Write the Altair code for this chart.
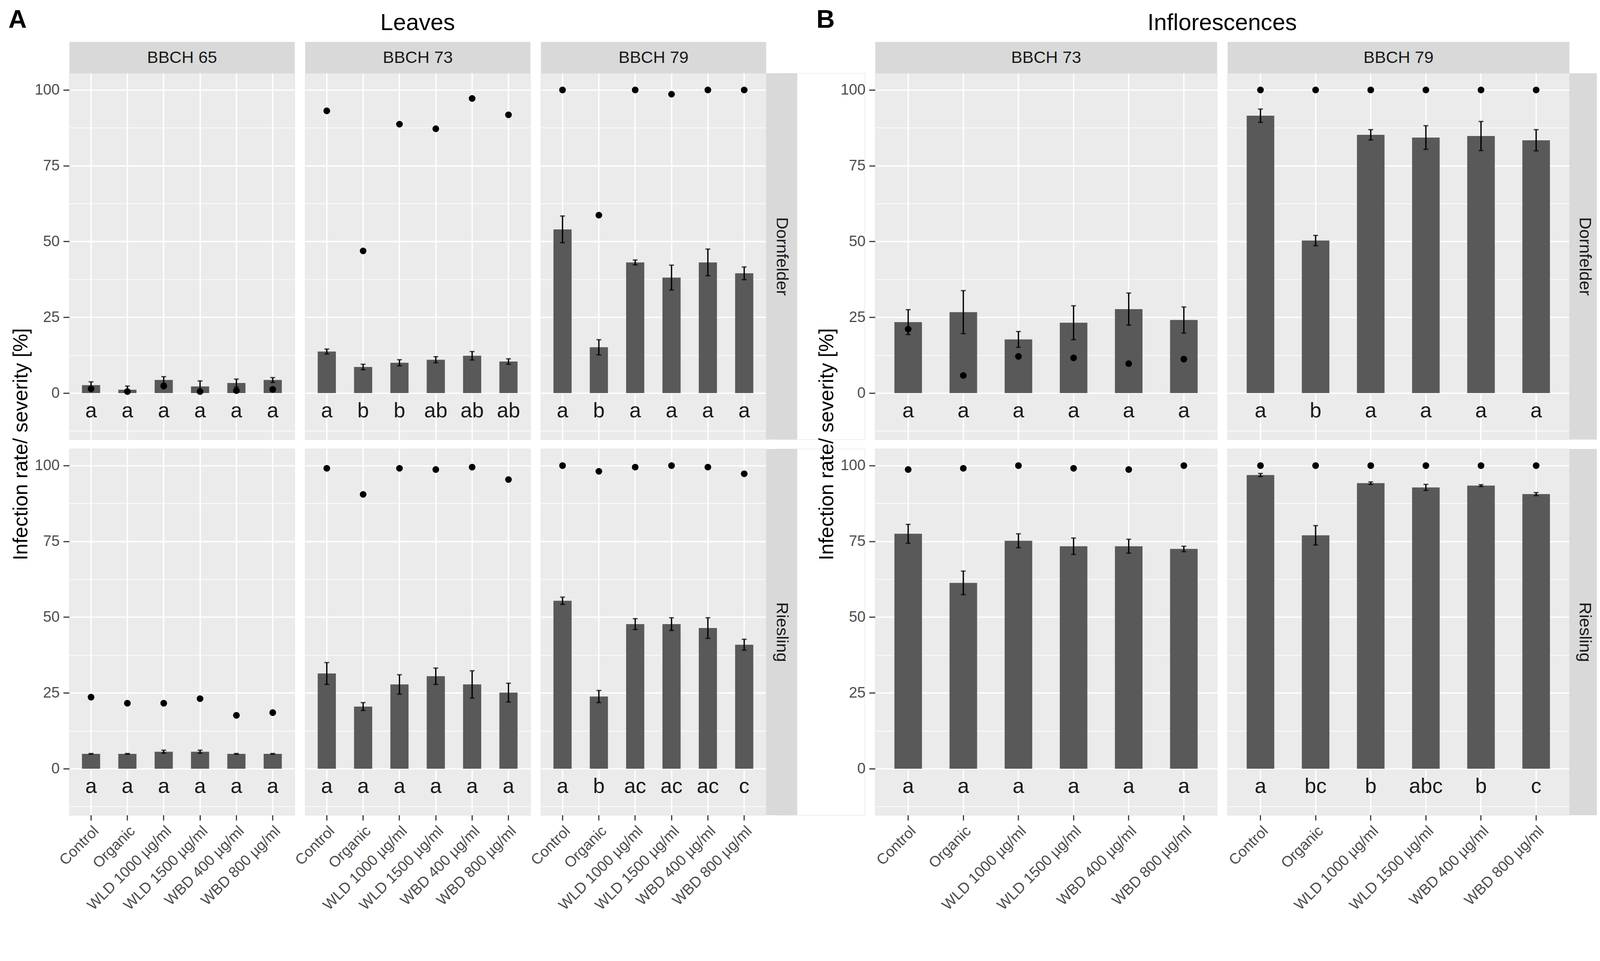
import altair as alt
import pandas as pd

FONT = "Liberation Sans"

treatments = ["Control", "Organic", "WLD 1000 µg/ml", "WLD 1500 µg/ml",
              "WBD 400 µg/ml", "WBD 800 µg/ml"]

# ---------------- A: Leaves ----------------
# Dornfelder
leaf_dorn_65_sev = [2.6, 1.1, 4.3, 2.2, 3.3, 4.3]
leaf_dorn_65_se = [1.1, 1.2, 1.1, 1.8, 1.3, 0.8]
leaf_dorn_65_inf = [1.4, 0.5, 2.3, 0.5, 0.8, 1.2]
leaf_dorn_65_let = ["a", "a", "a", "a", "a", "a"]

leaf_dorn_73_sev = [13.7, 8.6, 10.0, 11.0, 12.3, 10.4]
leaf_dorn_73_se = [0.8, 0.9, 1.0, 1.0, 1.4, 0.9]
leaf_dorn_73_inf = [93.1, 46.9, 88.7, 87.2, 97.2, 91.8]
leaf_dorn_73_let = ["a", "b", "b", "ab", "ab", "ab"]

leaf_dorn_79_sev = [54.0, 15.1, 43.1, 38.1, 43.1, 39.5]
leaf_dorn_79_se = [4.4, 2.5, 0.8, 4.1, 4.4, 2.1]
leaf_dorn_79_inf = [100.0, 58.7, 100.0, 98.6, 100.0, 100.0]
leaf_dorn_79_let = ["a", "b", "a", "a", "a", "a"]

# Riesling
leaf_ries_65_sev = [4.9, 4.9, 5.6, 5.6, 4.9, 4.9]
leaf_ries_65_se = [0.1, 0.1, 0.5, 0.5, 0.1, 0.1]
leaf_ries_65_inf = [23.6, 21.6, 21.6, 23.1, 17.6, 18.5]
leaf_ries_65_let = ["a", "a", "a", "a", "a", "a"]

leaf_ries_73_sev = [31.4, 20.5, 27.8, 30.5, 27.8, 25.1]
leaf_ries_73_se = [3.6, 1.3, 3.2, 2.7, 4.5, 3.1]
leaf_ries_73_inf = [99.1, 90.5, 99.1, 98.7, 99.5, 95.4]
leaf_ries_73_let = ["a", "a", "a", "a", "a", "a"]

leaf_ries_79_sev = [55.4, 23.8, 47.7, 47.7, 46.4, 40.9]
leaf_ries_79_se = [1.2, 2.0, 1.8, 2.1, 3.4, 1.8]
leaf_ries_79_inf = [100.0, 98.1, 99.5, 100.0, 99.5, 97.3]
leaf_ries_79_let = ["a", "b", "ac", "ac", "ac", "c"]

# ---------------- B: Inflorescences ----------------
infl_dorn_73_sev = [23.4, 26.7, 17.7, 23.2, 27.7, 24.1]
infl_dorn_73_se = [4.1, 7.1, 2.6, 5.6, 5.3, 4.3]
infl_dorn_73_inf = [21.1, 5.8, 12.1, 11.6, 9.7, 11.2]
infl_dorn_73_let = ["a", "a", "a", "a", "a", "a"]

infl_dorn_79_sev = [91.5, 50.3, 85.2, 84.3, 84.8, 83.4]
infl_dorn_79_se = [2.2, 1.7, 1.7, 3.9, 4.8, 3.5]
infl_dorn_79_inf = [100.0, 100.0, 100.0, 100.0, 100.0, 100.0]
infl_dorn_79_let = ["a", "b", "a", "a", "a", "a"]

infl_ries_73_sev = [77.5, 61.3, 75.2, 73.4, 73.4, 72.5]
infl_ries_73_se = [3.1, 3.9, 2.3, 2.7, 2.3, 0.9]
infl_ries_73_inf = [98.7, 99.1, 100.0, 99.1, 98.7, 100.0]
infl_ries_73_let = ["a", "a", "a", "a", "a", "a"]

infl_ries_79_sev = [96.9, 77.0, 94.2, 92.8, 93.4, 90.6]
infl_ries_79_se = [0.5, 3.2, 0.4, 1.0, 0.3, 0.5]
infl_ries_79_inf = [100.0, 100.0, 100.0, 100.0, 100.0, 100.0]
infl_ries_79_let = ["a", "bc", "b", "abc", "b", "c"]

Y_TITLE = "Infection rate/ severity [%]"

# ---------------- layout constants ----------------
H = 980
W_LEAF = 603
W_INFL = 915
STRIP_H = 84
STRIP_W = 83
ROW_GAP = 25
COL_GAP = 28
SPACER_W = 236

Y_DOMAIN = [-15.3, 105.55]
Y_VALUES = [-12.5, 0, 12.5, 25, 37.5, 50, 62.5, 75, 87.5, 100]
MINOR = "datum.value % 25 != 0"
LETTER_Y = -8

BAR_COLOR = "#595959"
PANEL_BG = "#EBEBEB"
STRIP_BG = "#D9D9D9"


def frame(sev, se, inf, let):
    return pd.DataFrame({
        "trt": treatments,
        "sev": sev,
        "lo": [m - e for m, e in zip(sev, se)],
        "hi": [m + e for m, e in zip(sev, se)],
        "inf": inf,
        "let": let,
    })


def panel(df, width, first_col, bottom, top_label=None, right_label=None,
          ytitle=None, title=None):
    xscale = alt.Scale(domain=treatments, paddingInner=0, paddingOuter=0.1)
    yscale = alt.Scale(domain=Y_DOMAIN, nice=False, zero=False)

    xk = dict(title=None, domain=False, grid=True, gridColor="white",
              gridWidth=3.5, bandPosition=0.5, labels=bottom, ticks=bottom,
              labelOverlap=False)
    if bottom:
        xk.update(labelAngle=-45, labelAlign="right", labelBaseline="top",
                  labelFontSize=40, labelFont=FONT, labelColor="#4D4D4D",
                  labelPadding=8, labelLimit=0, tickColor="#333333",
                  tickSize=14, tickWidth=3)
    xaxis = alt.Axis(**xk)

    yk = dict(values=Y_VALUES, domain=False, grid=True, gridColor="white",
              gridWidth={"condition": {"test": MINOR, "value": 1.7}, "value": 3.5},
              labels=first_col, ticks=first_col, labelOverlap=False)
    if first_col:
        yk.update(labelExpr="datum.value % 25 == 0 ? datum.label : ''",
                  labelFontSize=40, labelFont=FONT, labelColor="#4D4D4D",
                  labelPadding=10, tickColor="#333333", tickSize=16, tickWidth=3,
                  tickOpacity={"condition": {"test": MINOR, "value": 0}, "value": 1})
    if ytitle:
        yk.update(title=ytitle, titleX=-129, titleY=(2 * H + ROW_GAP) / 2,
                  titleAngle=270, titleAlign="center", titleBaseline="middle",
                  titleFontSize=54, titleFont=FONT, titleFontWeight="normal",
                  titleColor="black")
    else:
        yk["title"] = None
    yaxis = alt.Axis(**yk)

    X = alt.X("trt:N", scale=xscale, axis=xaxis)
    Xn = alt.X("trt:N", scale=xscale, axis=None)
    base = alt.Chart(df)

    bars = base.mark_bar(color=BAR_COLOR, width={"band": 0.5}).encode(
        x=X, y=alt.Y("sev:Q", scale=yscale, axis=yaxis))
    rule = base.mark_rule(color="black", strokeWidth=3.5).encode(
        x=Xn, y=alt.Y("lo:Q", scale=yscale, axis=None), y2="hi:Q")
    cap_lo = base.mark_tick(color="black", thickness=3.5, size=13).encode(
        x=Xn, y=alt.Y("lo:Q", scale=yscale, axis=None))
    cap_hi = base.mark_tick(color="black", thickness=3.5, size=13).encode(
        x=Xn, y=alt.Y("hi:Q", scale=yscale, axis=None))
    pts = base.mark_circle(color="black", size=320, opacity=1).encode(
        x=Xn, y=alt.Y("inf:Q", scale=yscale, axis=None))
    txt = base.mark_text(font=FONT, fontSize=56, color="#1A1A1A",
                         baseline="alphabetic").encode(
        x=Xn, y=alt.YDatum(LETTER_Y, axis=None), text="let:N")

    layers = [bars, rule, cap_lo, cap_hi, pts, txt]

    if top_label or right_label:
        if top_label:
            sx = alt.X("trt:N", scale=xscale, axis=alt.Axis(
                orient="top", title=top_label, labels=False, ticks=False,
                grid=False, domain=True, domainColor=STRIP_BG,
                domainWidth=STRIP_H, offset=STRIP_H / 2, titleX=width / 2,
                titleY=0, titleAlign="center", titleBaseline="middle",
                titleFontSize=45, titleFont=FONT, titleFontWeight="normal",
                titleColor="#1A1A1A", titlePadding=0))
        else:
            sx = Xn
        if right_label:
            sy = alt.Y("sev:Q", scale=yscale, axis=alt.Axis(
                orient="right", title=right_label, labels=False, ticks=False,
                grid=False, domain=True, domainColor=STRIP_BG,
                domainWidth=STRIP_W, offset=STRIP_W / 2, titleX=0,
                titleY=H / 2, titleAngle=90, titleAlign="center",
                titleBaseline="middle", titleFontSize=45, titleFont=FONT,
                titleFontWeight="normal", titleColor="#1A1A1A", titlePadding=0))
        else:
            sy = alt.Y("sev:Q", scale=yscale, axis=None)
        strip = base.mark_point(opacity=0).encode(x=sx, y=sy)
        layers.append(strip)

    props = dict(width=width, height=H, view=alt.ViewBackground(fill=PANEL_BG))
    if title is not None:
        props["title"] = title
    return alt.layer(*layers).resolve_axis(x="independent", y="independent").properties(**props)


def spacer():
    return alt.Chart(pd.DataFrame({"v": [0]})).mark_point(opacity=0).encode(
        x=alt.value(0), y=alt.value(0)).properties(width=SPACER_W, height=H)


TITLE_OFFSET = -11


def letter_title(t, dx):
    return alt.TitleParams(t, fontSize=68, font=FONT, fontWeight="bold",
                           color="black", anchor="start", frame="group",
                           dx=dx, baseline="alphabetic", offset=TITLE_OFFSET)


def main_title(t, dx=0):
    return alt.TitleParams(t, fontSize=62, font=FONT, fontWeight="normal",
                           color="black", anchor="middle", frame="group",
                           dx=dx, baseline="alphabetic", offset=TITLE_OFFSET)


cells = [
    panel(frame(leaf_dorn_65_sev, leaf_dorn_65_se, leaf_dorn_65_inf, leaf_dorn_65_let),
          W_LEAF, True, False, top_label="BBCH 65", ytitle=Y_TITLE,
          title=letter_title("A", -163)),
    panel(frame(leaf_dorn_73_sev, leaf_dorn_73_se, leaf_dorn_73_inf, leaf_dorn_73_let),
          W_LEAF, False, False, top_label="BBCH 73", title=main_title("Leaves")),
    panel(frame(leaf_dorn_79_sev, leaf_dorn_79_se, leaf_dorn_79_inf, leaf_dorn_79_let),
          W_LEAF, False, False, top_label="BBCH 79", right_label="Dornfelder"),
    spacer(),
    panel(frame(infl_dorn_73_sev, infl_dorn_73_se, infl_dorn_73_inf, infl_dorn_73_let),
          W_INFL, True, False, top_label="BBCH 73", ytitle=Y_TITLE,
          title=letter_title("B", -157)),
    panel(frame(infl_dorn_79_sev, infl_dorn_79_se, infl_dorn_79_inf, infl_dorn_79_let),
          W_INFL, False, False, top_label="BBCH 79", right_label="Dornfelder",
          title=main_title("Inflorescences", -(W_INFL + COL_GAP) / 2)),
    panel(frame(leaf_ries_65_sev, leaf_ries_65_se, leaf_ries_65_inf, leaf_ries_65_let),
          W_LEAF, True, True),
    panel(frame(leaf_ries_73_sev, leaf_ries_73_se, leaf_ries_73_inf, leaf_ries_73_let),
          W_LEAF, False, True),
    panel(frame(leaf_ries_79_sev, leaf_ries_79_se, leaf_ries_79_inf, leaf_ries_79_let),
          W_LEAF, False, True, right_label="Riesling"),
    spacer(),
    panel(frame(infl_ries_73_sev, infl_ries_73_se, infl_ries_73_inf, infl_ries_73_let),
          W_INFL, True, True),
    panel(frame(infl_ries_79_sev, infl_ries_79_se, infl_ries_79_inf, infl_ries_79_let),
          W_INFL, False, True, right_label="Riesling"),
]

chart = alt.concat(*cells, columns=6, spacing={"row": ROW_GAP, "column": COL_GAP},
                   bounds="flush", align="each").properties(
    padding={"left": 13, "top": -43, "right": 10, "bottom": 0}
).configure_view(strokeWidth=0).configure(font=FONT)

chart.save("out.html", embed_options={"renderer": "svg", "actions": False})
